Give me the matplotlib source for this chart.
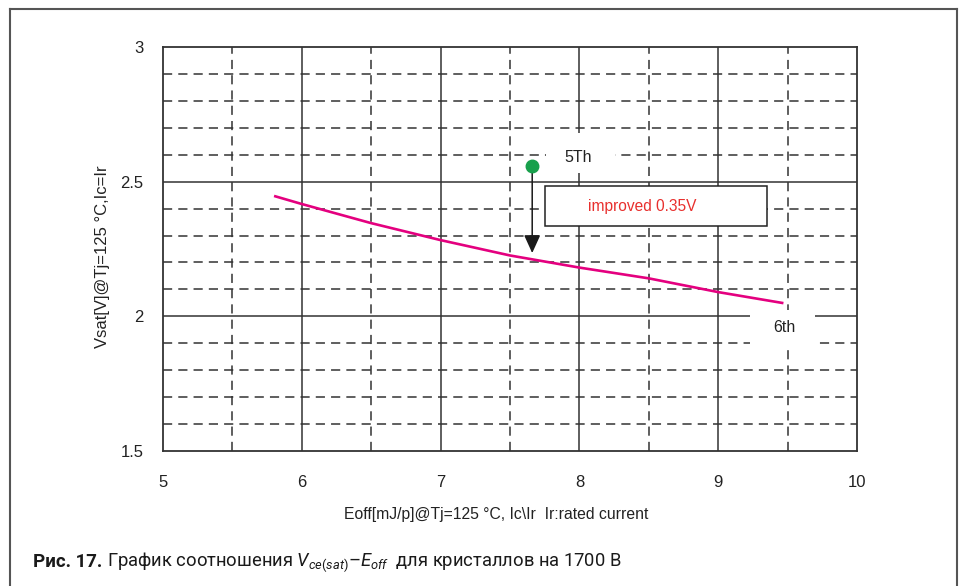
import numpy as np
import matplotlib
matplotlib.use("Agg")
import matplotlib.pyplot as plt
from matplotlib.patches import Rectangle

# values
eoff = [5.8, 6.0, 6.5, 7.0, 7.5, 8.0, 8.5, 9.0, 9.47]
vsat = [2.447, 2.417, 2.346, 2.283, 2.226, 2.181, 2.141, 2.090, 2.049]
gen5_eoff = 7.66
gen5_vsat = 2.558
arrow_end_vsat = 2.235
x_ticks = [5, 6, 7, 8, 9, 10]
y_ticks = [1.5, 2, 2.5, 3]
y_tick_labels = ["1.5", "2", "2.5", "3"]

plt.rcParams['font.family'] = ['Liberation Sans', 'DejaVu Sans']
plt.rcParams['mathtext.fontset'] = 'custom'
plt.rcParams['mathtext.rm'] = 'Roboto'
plt.rcParams['mathtext.it'] = 'Roboto:italic'

fig = plt.figure(figsize=(9.59, 5.86), dpi=100)
ax = fig.add_axes([163/959, 1 - 451/586, 694/959, 404/586])
ax.set_xlim(5, 10)
ax.set_ylim(1.5, 3)

grid_col = '#333333'
# grid: solid at integers / 0.5 V, dashed in between
for x in np.arange(6, 10, 1):
    ax.axvline(x, color=grid_col, lw=1.1, zorder=1)
for x in np.arange(5.5, 10, 1):
    ax.axvline(x, color=grid_col, lw=1.1, ls=(0, (6, 4)), zorder=1)
for y in np.arange(1.6, 3.0, 0.1):
    if abs(y - 2.0) < 1e-6 or abs(y - 2.5) < 1e-6:
        ax.axhline(y, color=grid_col, lw=1.1, zorder=1)
    else:
        ax.axhline(y, color=grid_col, lw=1.1, ls=(0, (6, 4)), zorder=1)

for s in ax.spines.values():
    s.set_color(grid_col)
    s.set_linewidth(1.3)

ax.set_xticks(x_ticks)
ax.set_xticklabels([str(v) for v in x_ticks])
ax.set_yticks(y_ticks)
ax.set_yticklabels(y_tick_labels)
ax.tick_params(length=0, labelsize=12, colors='#222222')
ax.tick_params(axis='x', pad=17)
ax.tick_params(axis='y', pad=14)

# white patches behind labels
ax.add_patch(Rectangle((7.76, 2.532), 0.50, 0.149, fc='white', ec='none', zorder=2))
ax.add_patch(Rectangle((9.23, 1.875), 0.47, 0.148, fc='white', ec='none', zorder=2))

# improvement box
ax.add_patch(Rectangle((7.752, 2.335), 1.60, 0.149, fc='white', ec='#222222', lw=1.1, zorder=3))
ax.text(8.45, 2.408, "improved 0.35V", color='#e8302e', fontsize=11.2,
        ha='center', va='center', zorder=4)

ax.plot(eoff, vsat, color='#e4007f', lw=1.9, zorder=4, solid_capstyle='butt')

ax.annotate("", xy=(gen5_eoff, arrow_end_vsat), xytext=(gen5_eoff, gen5_vsat - 0.01),
            arrowprops=dict(arrowstyle='-|>,head_length=1.1,head_width=0.5',
                            color='#1a1a1a', lw=1.1, shrinkA=0, shrinkB=0), zorder=4)
ax.plot([gen5_eoff], [gen5_vsat], 'o', color='#18a04c', ms=9, zorder=5)

ax.text(7.99, 2.588, "5Th", fontsize=11.5, ha='center', va='center', color='#222222', zorder=5)
ax.text(9.48, 1.957, "6th", fontsize=11.5, ha='center', va='center', color='#222222', zorder=5)

fig.text(496/959, 1 - 515/586, "Eoff[mJ/p]@Tj=125 °C, Ic\\Ir  Ir:rated current",
         fontsize=11.3, ha='center', va='center', color='#222222')
fig.text(102/959, 1 - 257/586, "Vsat[V]@Tj=125 °C,Ic=Ir", fontsize=12,
         rotation=90, ha='center', va='center', color='#222222')

# outer frame (open at the bottom)
frame_col = '#555555'
fig.add_artist(plt.Line2D([10/959, 10/959], [0, 1 - 9/586], transform=fig.transFigure,
                          color=frame_col, lw=1.5))
fig.add_artist(plt.Line2D([10/959, 957/959], [1 - 9/586, 1 - 9/586], transform=fig.transFigure,
                          color=frame_col, lw=1.5))
fig.add_artist(plt.Line2D([957/959, 957/959], [0, 1 - 9/586], transform=fig.transFigure,
                          color=frame_col, lw=1.5))

# caption
cap_y = 1 - 562/586
t1 = fig.text(33/959, cap_y, "Рис. 17.", fontsize=13.5, family='Roboto', weight='bold',
              ha='left', va='center', color='#1a1a1a')
fig.canvas.draw()
bb = t1.get_window_extent()
x2 = (bb.x1 + 5) / 959
fig.text(x2, cap_y, "График соотношения $V_{ce(sat)}$–$E_{off}$  для кристаллов на 1700 В",
         fontsize=13.2, family='Roboto', ha='left', va='center', color='#1a1a1a')

fig.savefig("out.png", dpi=100)
